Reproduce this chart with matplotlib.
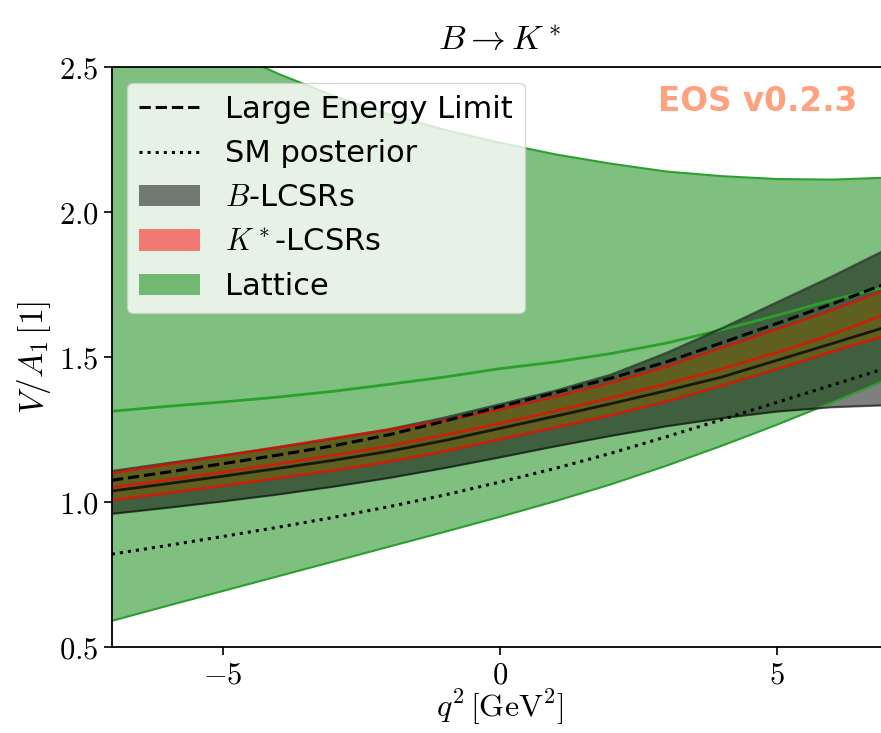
import matplotlib
matplotlib.use('Agg')
import matplotlib.pyplot as plt
from matplotlib.patches import Patch
from matplotlib.lines import Line2D
from matplotlib.ticker import FuncFormatter

plt.rcParams['mathtext.fontset'] = 'cm'

# values, q^2 in GeV^2
q2 = [-7, -6, -5, -4, -3, -2, -1, 0, 1, 2, 3, 4, 5, 6, 7]

lattice_lo = [0.591, 0.643, 0.694, 0.745, 0.796, 0.847, 0.898, 0.950, 1.004, 1.062, 1.126, 1.195, 1.268, 1.345, 1.425]
lattice_mid = [1.314, 1.331, 1.346, 1.363, 1.383, 1.407, 1.432, 1.461, 1.484, 1.513, 1.549, 1.595, 1.645, 1.698, 1.745]
lattice_hi = [2.780, 2.665, 2.565, 2.478, 2.402, 2.338, 2.285, 2.240, 2.200, 2.168, 2.141, 2.125, 2.115, 2.113, 2.120]

blcsr_lo = [0.960, 0.981, 1.003, 1.027, 1.054, 1.084, 1.118, 1.155, 1.193, 1.229, 1.262, 1.290, 1.313, 1.328, 1.335]
blcsr_mid = [1.039, 1.064, 1.090, 1.117, 1.145, 1.176, 1.213, 1.255, 1.297, 1.340, 1.385, 1.432, 1.490, 1.548, 1.607]
blcsr_hi = [1.108, 1.135, 1.162, 1.190, 1.220, 1.252, 1.292, 1.338, 1.385, 1.440, 1.515, 1.600, 1.690, 1.780, 1.875]

kstar_lo = [1.007, 1.032, 1.057, 1.083, 1.110, 1.140, 1.176, 1.217, 1.258, 1.300, 1.348, 1.402, 1.460, 1.520, 1.578]
kstar_mid = [1.051, 1.077, 1.104, 1.132, 1.162, 1.194, 1.232, 1.272, 1.315, 1.360, 1.408, 1.460, 1.517, 1.580, 1.652]
kstar_hi = [1.101, 1.130, 1.160, 1.190, 1.221, 1.250, 1.283, 1.320, 1.364, 1.412, 1.468, 1.533, 1.598, 1.664, 1.735]

lel = [1.076, 1.104, 1.133, 1.163, 1.195, 1.233, 1.280, 1.330, 1.378, 1.428, 1.484, 1.550, 1.617, 1.685, 1.757]
sm_post = [0.821, 0.851, 0.882, 0.914, 0.948, 0.985, 1.025, 1.070, 1.117, 1.169, 1.226, 1.285, 1.345, 1.405, 1.465]

fig = plt.figure(figsize=(8.81, 7.33), dpi=100)
ax = fig.add_axes([0.127, 0.117, 0.881, 0.791])

# lattice band
ax.fill_between(q2, lattice_lo, lattice_hi, color='green', alpha=0.5, lw=0)
ax.plot(q2, lattice_lo, color='#2ca02c', lw=1.5)
ax.plot(q2, lattice_hi, color='#2ca02c', lw=1.5)
ax.plot(q2, lattice_mid, color='#2ca02c', lw=2)

# K* LCSR band
ax.fill_between(q2, kstar_lo, kstar_hi, color=(1.0, 0.75, 0.0), alpha=0.5, lw=0)

# B LCSR band
ax.fill_between(q2, blcsr_lo, blcsr_hi, color='black', alpha=0.5, lw=0)
ax.plot(q2, blcsr_lo, color='black', alpha=0.55, lw=1.6)
ax.plot(q2, blcsr_hi, color='black', alpha=0.55, lw=1.6)
ax.plot(q2, blcsr_mid, color='black', alpha=0.75, lw=2)

for k in (kstar_lo, kstar_mid, kstar_hi):
    ax.plot(q2, k, color='red', alpha=0.65, lw=2)

ax.plot(q2, lel, color='black', ls='--', lw=2.2)
ax.plot(q2, sm_post, color='black', ls=':', lw=2.2)

ax.set_xlim(-7, 7)
ax.set_ylim(0.5, 2.5)
ax.set_xticks([-5, 0, 5])
ax.set_yticks([0.5, 1.0, 1.5, 2.0, 2.5])
ax.xaxis.set_major_formatter(FuncFormatter(lambda v, p: '$%g$' % v))
ax.yaxis.set_major_formatter(FuncFormatter(lambda v, p: '$%.1f$' % v))
ax.tick_params(labelsize=22, length=6, width=1.2)
for s in ax.spines.values():
    s.set_linewidth(1.3)

ax.set_xlabel(r'$q^2\,[\mathrm{GeV}^2]$', fontsize=23, labelpad=-1)
ax.set_ylabel(r'$V/A_1\,[1]$', fontsize=24)
ax.set_title(r'$B \to K^*$', fontsize=25, pad=12)

ax.text(0.96, 0.97, 'EOS v0.2.3', transform=ax.transAxes, ha='right', va='top',
        color='OrangeRed', alpha=0.5, fontsize=23.5, fontweight='bold')

handles = [
    Line2D([], [], color='black', ls='--', lw=2.2),
    Line2D([], [], color='black', ls=':', lw=2.2),
    Patch(color='black', alpha=0.5, lw=0),
    Patch(color='red', alpha=0.5, lw=0),
    Patch(color='green', alpha=0.5, lw=0),
]
labels = ['Large Energy Limit', 'SM posterior', r'$B$-LCSRs', r'$K^*$-LCSRs', 'Lattice']
ax.legend(handles, labels, loc='upper left', fontsize=22)

fig.savefig('out.png', dpi=100)
